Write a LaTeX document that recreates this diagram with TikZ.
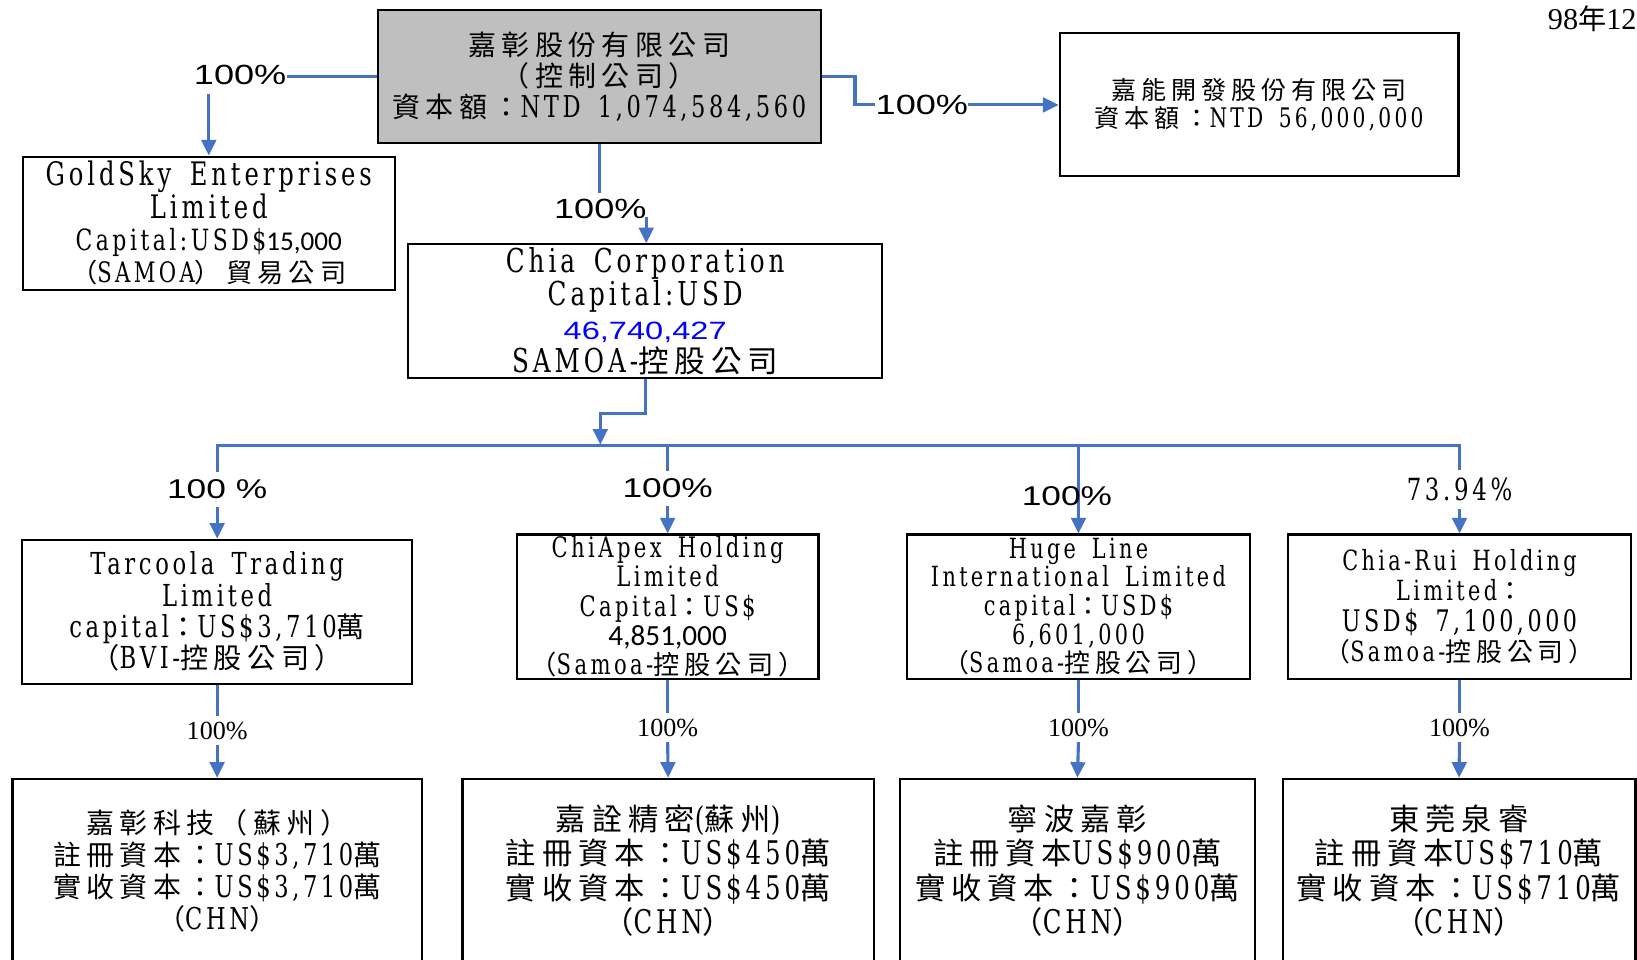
\documentclass[tikz,border=0pt]{standalone}
\usepackage{fontspec}
\usetikzlibrary{arrows.meta}
\setmainfont{Liberation Serif}
\newfontfamily\ms[FakeStretch=0.75,LetterSpace=12,WordSpace=1.6]{DejaVu Serif}
\newfontfamily\cjk[Scale=0.93,LetterSpace=19.5]{Noto Sans CJK TC}
\newfontfamily\arialW[FakeStretch=1.3]{Liberation Sans}
\newfontfamily\cali{Carlito}
\newcommand\zh[1]{{\cjk #1}}
\definecolor{lineblue}{HTML}{4472C4}
\definecolor{boxgray}{HTML}{BFBFBF}
\definecolor{textblue}{HTML}{0000FF}
\tikzset{
  box/.style={draw=black, line width=1pt, inner sep=0pt, align=center, anchor=center},
  conn/.style={draw=lineblue, line width=1.5pt},
  arr/.style={conn, -{Triangle[width=7pt,length=7.5pt]}},
  pctA/.style={font=\arialW\fontsize{13.3}{15}\selectfont, inner sep=0pt},
  pctB/.style={font=\arialW\fontsize{13}{15}\selectfont, inner sep=3.5pt},
  pctC/.style={font=\fontsize{12.5}{14}\selectfont, inner sep=2.5pt},
}
\begin{document}
\begin{tikzpicture}[x=0.5pt,y=-0.5pt]
\useasboundingbox (0,0) rectangle (1568,919);
\clip (0,0) rectangle (1568,919);

% ---- boxes ----
\node[box, fill=boxgray, minimum width=212pt, minimum height=63.5pt,
      font=\ms\fontsize{14.4}{15}\selectfont] (top) at (574,73.5)
  {\zh{嘉彰股份有限公司}\\\zh{（控制公司）}\\\zh{資本額：}NTD 1,074,584,560};

\node[box, minimum width=191pt, minimum height=68.5pt,
      font=\ms\fontsize{12.9}{13.5}\selectfont] (right) at (1206,100.5)
  {\zh{嘉能開發股份有限公司}\\\zh{資本額：}NTD 56,000,000};

\node[box, minimum width=178pt, minimum height=64pt,
      font=\ms\fontsize{15.5}{15.5}\selectfont] (gold) at (200,214)
  {GoldSky Enterprises\\Limited\\{\fontsize{14}{15.5}\selectfont Capital:USD\$}{\cali\fontsize{13}{15.5}\selectfont 15,000}\\{\fontsize{13.5}{15.5}\selectfont\zh{（}SAMOA\zh{）貿易公司}}};

\node[box, minimum width=227pt, minimum height=64pt,
      font=\ms\fontsize{15.75}{16}\selectfont] (chia) at (618,298)
  {Chia Corporation\\Capital:USD\\{\arialW\fontsize{12}{16}\selectfont\color{textblue}46,740,427}\\SAMOA-\zh{控股公司}};

\node[box, minimum width=187pt, minimum height=69pt,
      font=\ms\fontsize{14.5}{15}\selectfont] (tar) at (208,586)
  {Tarcoola Trading\\Limited\\capital\zh{：}US\$3,710\zh{萬}\\\zh{（}BVI-\zh{控股公司）}};

\node[box, minimum width=144.5pt, minimum height=69pt,
      font=\ms\fontsize{13.5}{14}\selectfont] (apex) at (639.5,581)
  {ChiApex Holding\\Limited\\Capital\zh{：}US\$\\{\cali\fontsize{14}{14}\selectfont 4,851,000}\\\zh{（}Samoa-\zh{控股公司）}};

\node[box, minimum width=164pt, minimum height=69pt,
      font=\ms\fontsize{13.3}{13.75}\selectfont] (huge) at (1033,581)
  {Huge Line\\International Limited\\capital\zh{：}USD\$\\6,601,000\\\zh{（}Samoa-\zh{控股公司）}};

\node[box, minimum width=164pt, minimum height=69pt,
      font=\ms\fontsize{13.3}{14.5}\selectfont] (rui) at (1398,581)
  {Chia-Rui Holding\\Limited\zh{：}\\{\fontsize{14.2}{14.5}\selectfont USD\$ 7,100,000}\\\zh{（}Samoa-\zh{控股公司）}};

\node[box, minimum width=196pt, minimum height=88pt,
      font=\ms\fontsize{14.4}{15.25}\selectfont] (sub1) at (208,834)
  {\zh{嘉彰科技（蘇州）}\\\zh{註冊資本：}US\$3,710\zh{萬}\\\zh{實收資本：}US\$3,710\zh{萬}\\\zh{（}CHN\zh{）}};

\node[box, minimum width=197pt, minimum height=88pt,
      font=\ms\fontsize{15.6}{16.5}\selectfont] (sub2) at (640,834)
  {\zh{嘉詮精密}(\zh{蘇州})\\\zh{註冊資本：}US\$450\zh{萬}\\\zh{實收資本：}US\$450\zh{萬}\\\zh{（}CHN\zh{）}};

\node[box, minimum width=170pt, minimum height=88pt,
      font=\ms\fontsize{15.6}{16.5}\selectfont] (sub3) at (1032,834)
  {\zh{寧波嘉彰}\\\zh{註冊資本}US\$900\zh{萬}\\\zh{實收資本：}US\$900\zh{萬}\\\zh{（}CHN\zh{）}};

\node[box, minimum width=169pt, minimum height=88pt,
      font=\ms\fontsize{15.6}{16.5}\selectfont] (sub4) at (1397.5,834)
  {\zh{東莞泉睿}\\\zh{註冊資本}US\$710\zh{萬}\\\zh{實收資本：}US\$710\zh{萬}\\\zh{（}CHN\zh{）}};

\node[anchor=east, inner sep=0pt, font=\fontsize{14.5}{16}\selectfont] (date) at (1568,18) {98\zh{年}12};

% ---- labels ----
\node[pctA] (pTL) at (230,72) {100\%};
\node[pctA] (pTR) at (883,100.5) {100\%};
\node[pctA, inner sep=2.5pt] (pTM) at (575,200) {100\%};

\node[pctB] (p1) at (208,469) {100 \%};
\node[pctB] (p2) at (639.5,468) {100\%};
\node[pctB, font=\ms\fontsize{14.6}{15}\selectfont] (p4) at (1398,469) {73.94\%};

\node[pctC] (l1) at (208,700) {100\%};
\node[pctC] (l2) at (639.5,697) {100\%};
\node[pctC] (l3) at (1033,697) {100\%};
\node[pctC] (l4) at (1398,697) {100\%};

% ---- coordinates ----
\coordinate (aTL) at (200,90);
\coordinate (aTM) at (619,208);
\coordinate (busM) at (575,426);
\coordinate (b1) at (208,427);
\coordinate (b2) at (639.5,427);
\coordinate (b3) at (1033,427);
\coordinate (b4) at (1398,427);

% ---- connectors ----
\draw[conn] (top.west) -- (top.west -| pTL.east);
\draw[arr] (aTL) -- (gold.north);
\draw[conn] (top.east) -- ++(32,0) |- (pTR.west);
\draw[arr] (pTR.east) -- (right.west);
\draw[conn] (top.south) -- (top.south |- pTM.north);
\draw[arr] (aTM) -- (aTM |- chia.north);
\draw[arr] (chia.south) -- ++(0,33) -| (busM);
\draw[conn, line cap=rect] (b1) -- (b4);

\draw[conn] (b1) -- (p1.north);
\draw[arr] (p1.south) -- (tar.north);
\draw[conn] (b2) -- (p2.north);
\draw[arr] (p2.south) -- (apex.north);
\draw[arr] (b3) -- (huge.north);
\draw[conn] (b4) -- (p4.north);
\draw[arr] (p4.south) -- (rui.north);

\node[pctB, inner sep=0pt] (p3) at (1022,475) {100\%};

\draw[conn] (tar.south) -- (l1.north);
\draw[arr] (l1.south) -- (sub1.north);
\draw[conn] (apex.south) -- (l2.north);
\draw[arr] (l2.south) -- (sub2.north);
\draw[conn] (huge.south) -- (l3.north);
\draw[arr] (l3.south) -- (sub3.north);
\draw[conn] (rui.south) -- (l4.north);
\draw[arr] (l4.south) -- (sub4.north);
\end{tikzpicture}
\end{document}
